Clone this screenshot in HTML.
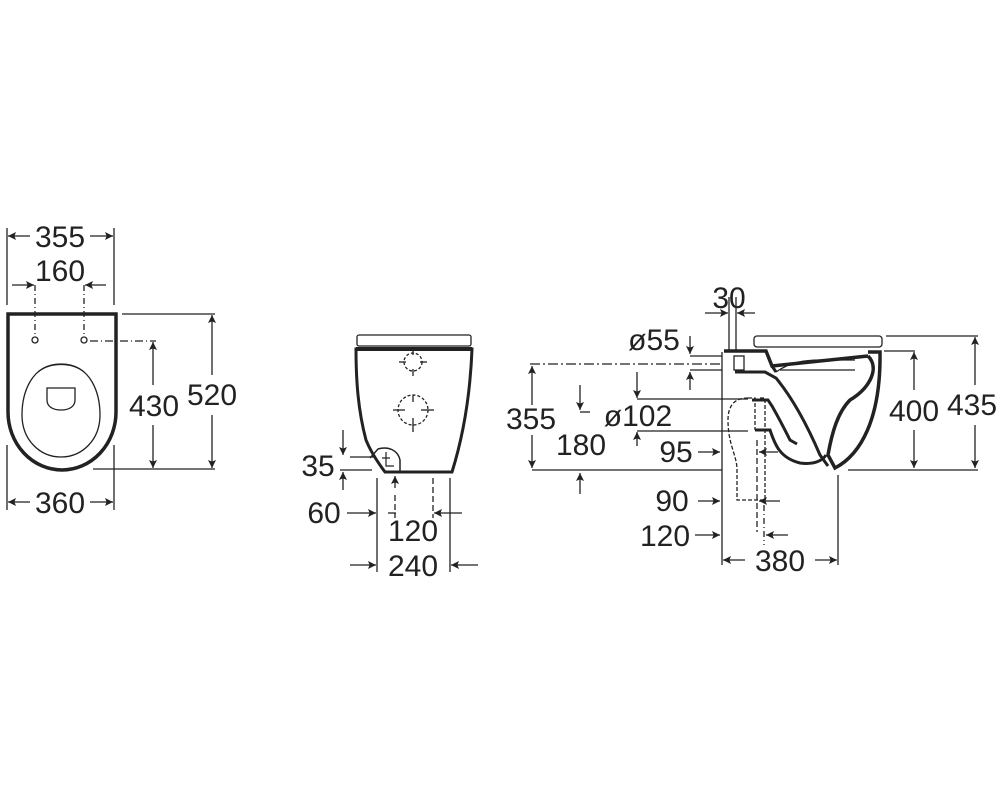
<!DOCTYPE html>
<html><head><meta charset="utf-8"><style>
html,body{margin:0;padding:0;background:#fff}
svg{display:block}
text{font-family:"Liberation Sans",sans-serif;font-size:30px;fill:#222}
</style></head><body>
<svg width="1000" height="800" viewBox="0 0 1000 800" xmlns="http://www.w3.org/2000/svg">
<defs>
<marker id="a" viewBox="0 0 10 10" refX="10" refY="5" markerWidth="14" markerHeight="8" orient="auto" markerUnits="userSpaceOnUse"><path d="M0,0 L10,5 L0,10 L2,5 Z" fill="#222"/></marker>
</defs>
<g stroke="#222" fill="none" stroke-width="1.3">
<!-- LEFT VIEW -->
<path d="M8,314 L116,314 L116,412 A54,58 0 0 1 8,412 Z" stroke-width="3.5"/>
<path d="M61,364 C30,364 22,395 22,415 C22,440 40,457 61,457 C82,457 100,440 100,415 C100,395 92,364 61,364 Z"/>
<path d="M47,388 L75,388 L75,400 C75,406 70,410 61,410 C52,410 47,406 47,400 Z"/>
<path d="M38,372 C50,362 72,362 84,372" />
<circle cx="35" cy="340" r="3"/><circle cx="84" cy="340" r="3"/>
<line x1="7" y1="228" x2="7" y2="305"/><line x1="114" y1="228" x2="114" y2="305"/>
<line x1="30" y1="236" x2="8" y2="236" marker-end="url(#a)"/><line x1="90" y1="236" x2="113" y2="236" marker-end="url(#a)"/>
<line x1="35" y1="285" x2="35" y2="335" stroke-dasharray="6,3,1,3"/><line x1="84" y1="285" x2="84" y2="335" stroke-dasharray="6,3,1,3"/>
<line x1="12" y1="285" x2="34" y2="285" marker-end="url(#a)"/><line x1="106" y1="285" x2="85" y2="285" marker-end="url(#a)"/>
<line x1="7" y1="445" x2="7" y2="510"/><line x1="114" y1="445" x2="114" y2="510"/>
<line x1="30" y1="502" x2="8" y2="502" marker-end="url(#a)"/><line x1="90" y1="502" x2="113" y2="502" marker-end="url(#a)"/>
<line x1="122" y1="314" x2="215" y2="314"/><line x1="93" y1="469" x2="215" y2="469"/>
<line x1="90" y1="341" x2="156" y2="341" stroke-dasharray="8,3,1,3"/>
<line x1="212" y1="375" x2="212" y2="315" marker-end="url(#a)"/><line x1="212" y1="415" x2="212" y2="468" marker-end="url(#a)"/>
<line x1="153" y1="385" x2="153" y2="342" marker-end="url(#a)"/><line x1="153" y1="425" x2="153" y2="468" marker-end="url(#a)"/>

<!-- MIDDLE VIEW -->
<rect x="357" y="335" width="114" height="11" rx="2"/>
<path d="M356,349 L472,349 C470,400 462,440 452,472 L385,472 C376,460 370,450 366,440 C358,410 356,380 356,349 Z" stroke-width="3"/>
<line x1="356" y1="349" x2="472" y2="349" stroke-width="4"/>
<path d="M370,458 L378,449 C388,446 398,450 400,460 L400,471" stroke-width="1.5"/>
<path d="M382,458 L390,458 M386,452 L386,466 L394,466" stroke-width="1.2"/>
<circle cx="413" cy="362" r="9" stroke-dasharray="3,2"/>
<line x1="413" y1="348" x2="413" y2="355"/><line x1="413" y1="369" x2="413" y2="376"/><line x1="399" y1="362" x2="406" y2="362"/><line x1="420" y1="362" x2="427" y2="362"/>
<circle cx="413" cy="410" r="15" stroke-dasharray="3,2"/>
<line x1="413" y1="395" x2="413" y2="402"/><line x1="413" y1="418" x2="413" y2="432"/><line x1="393" y1="410" x2="405" y2="410"/><line x1="421" y1="410" x2="434" y2="410"/>
<line x1="343" y1="430" x2="343" y2="455" marker-end="url(#a)"/><line x1="343" y1="490" x2="343" y2="472" marker-end="url(#a)"/>
<line x1="350" y1="457" x2="375" y2="457"/><line x1="340" y1="470" x2="372" y2="470"/>
<line x1="377" y1="478" x2="377" y2="572"/><line x1="395" y1="495" x2="395" y2="518" stroke-dasharray="6,3"/>
<line x1="433" y1="478" x2="433" y2="518" stroke-dasharray="6,3"/><line x1="450" y1="478" x2="450" y2="572"/>
<line x1="395" y1="488" x2="395" y2="476" marker-end="url(#a)"/>
<line x1="347" y1="513" x2="376" y2="513" marker-end="url(#a)"/>
<line x1="388" y1="513" x2="396" y2="513"/>
<line x1="462" y1="513" x2="434" y2="513" marker-end="url(#a)"/>
<line x1="350" y1="565" x2="376" y2="565" marker-end="url(#a)"/><line x1="478" y1="565" x2="451" y2="565" marker-end="url(#a)"/>

<!-- RIGHT VIEW -->
<rect x="754" y="336" width="128" height="11" rx="3"/>
<line x1="722" y1="352" x2="722" y2="565"/>
<path d="M724,351 L766,351 L772,366 L868,356" stroke-width="3.5"/>
<path d="M772,366 L776,372" stroke-width="3"/>
<path d="M868,356 C880,368 870,388 850,400 C838,412 832,432 828,455 L835,468 C860,455 881,420 880,352 L868,352" stroke-width="3.5"/>
<path d="M735,372 L765,372 L776,378 C790,395 805,420 820,455 L828,466" stroke-width="3"/>
<path d="M752,400 L768,400 L772,406 C780,420 786,432 790,440 L797,444" stroke-width="3"/>
<path d="M755,430 L770,430 C775,445 780,458 800,463 C815,465 823,460 826,455" stroke-width="3"/>
<path d="M776,372 C790,362 805,360 820,360 L855,360"/>
<line x1="780" y1="370" x2="855" y2="370"/>
<rect x="734" y="356" width="10" height="14"/>
<path d="M748,398 L755,398 L755,430 M760,398 L765,398 L765,500 L737,500 L737,470 C737,455 728,445 728,420 C728,405 735,398 748,398" stroke-dasharray="4,2"/>
<line x1="757" y1="440" x2="757" y2="532" stroke-dasharray="6,3"/>
<line x1="764" y1="505" x2="764" y2="545" stroke-dasharray="6,3,1,3"/>
<line x1="729" y1="297" x2="729" y2="350"/><line x1="736" y1="297" x2="736" y2="350"/>
<line x1="705" y1="313" x2="728" y2="313" marker-end="url(#a)"/><line x1="755" y1="313" x2="737" y2="313" marker-end="url(#a)"/>
<line x1="690" y1="336" x2="690" y2="354" marker-end="url(#a)"/><line x1="690" y1="390" x2="690" y2="372" marker-end="url(#a)"/>
<line x1="690" y1="356" x2="722" y2="356"/><line x1="690" y1="370" x2="722" y2="370"/>
<line x1="530" y1="364" x2="722" y2="364" stroke-dasharray="10,3,2,3"/>
<line x1="532" y1="470" x2="722" y2="470"/><line x1="848" y1="470" x2="978" y2="470"/>
<line x1="532" y1="405" x2="532" y2="366" marker-end="url(#a)"/><line x1="532" y1="435" x2="532" y2="468" marker-end="url(#a)"/>
<line x1="580" y1="385" x2="580" y2="410" marker-end="url(#a)"/><line x1="580" y1="494" x2="580" y2="473" marker-end="url(#a)"/>
<line x1="580" y1="412" x2="590" y2="412"/>
<line x1="637" y1="372" x2="637" y2="398" marker-end="url(#a)"/><line x1="637" y1="446" x2="637" y2="432" marker-end="url(#a)"/>
<line x1="637" y1="399" x2="748" y2="399"/><line x1="637" y1="431" x2="748" y2="431"/>
<line x1="698" y1="452" x2="720" y2="452" marker-end="url(#a)"/><line x1="778" y1="452" x2="759" y2="452" marker-end="url(#a)"/>
<line x1="698" y1="501" x2="720" y2="501" marker-end="url(#a)"/><line x1="780" y1="501" x2="759" y2="501" marker-end="url(#a)"/>
<line x1="695" y1="535" x2="720" y2="535" marker-end="url(#a)"/><line x1="788" y1="535" x2="766" y2="535" marker-end="url(#a)"/>
<line x1="838" y1="475" x2="838" y2="565"/>
<line x1="745" y1="560" x2="723" y2="560" marker-end="url(#a)"/><line x1="815" y1="560" x2="837" y2="560" marker-end="url(#a)"/>
<line x1="886" y1="336" x2="978" y2="336"/><line x1="884" y1="351" x2="915" y2="351"/>
<line x1="914" y1="390" x2="914" y2="352" marker-end="url(#a)"/><line x1="914" y1="430" x2="914" y2="468" marker-end="url(#a)"/>
<line x1="975" y1="385" x2="975" y2="337" marker-end="url(#a)"/><line x1="975" y1="425" x2="975" y2="468" marker-end="url(#a)"/>
</g>
<g text-anchor="middle">
<text x="60" y="247">355</text><text x="60" y="281">160</text><text x="60" y="513">360</text>
<text x="154" y="416">430</text><text x="212" y="405">520</text>
<text x="318" y="476">35</text><text x="324" y="523">60</text>
<text x="413" y="541">120</text><text x="413" y="576">240</text>
<text x="729" y="308">30</text><text x="654" y="350">ø55</text>
<text x="531" y="429">355</text><text x="638" y="426">ø102</text><text x="581" y="455">180</text>
<text x="676" y="462">95</text><text x="672" y="511">90</text><text x="665" y="546">120</text>
<text x="780" y="571">380</text><text x="914" y="421">400</text><text x="972" y="415">435</text>
</g>
</svg>
</body></html>
